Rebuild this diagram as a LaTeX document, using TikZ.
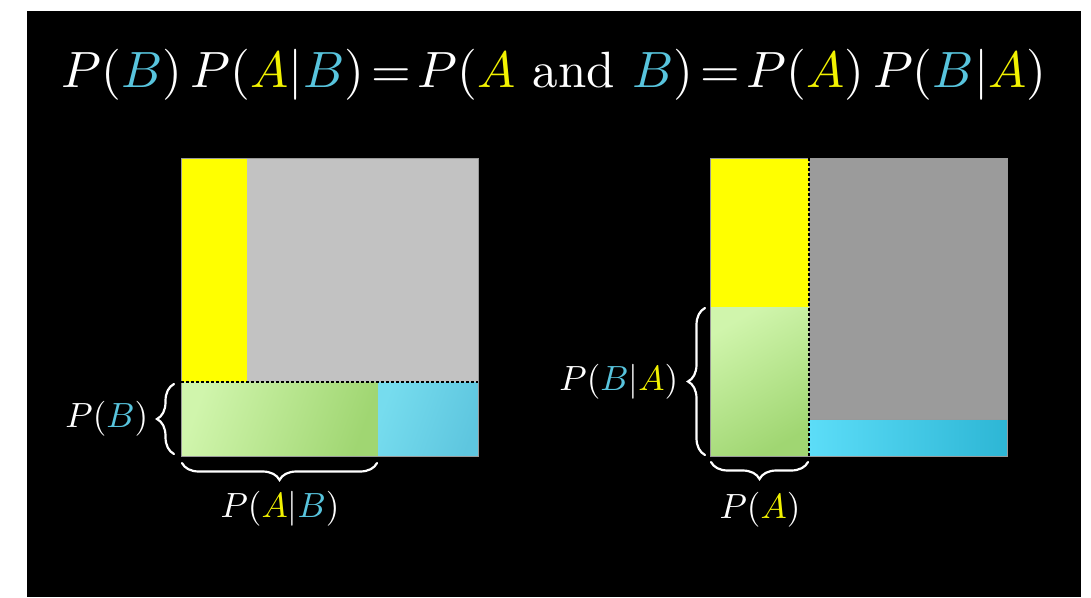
\documentclass[tikz,border=0pt]{standalone}
\usetikzlibrary{decorations.pathreplacing}
\definecolor{tblue}{HTML}{58C4DD}
\definecolor{tyellow}{HTML}{F2F200}
\definecolor{sqyellow}{HTML}{FFFF00}
\definecolor{lgray}{HTML}{C2C2C2}
\definecolor{dgray}{HTML}{9B9B9B}
\definecolor{greenA}{HTML}{D0F5AC}
\definecolor{greenB}{HTML}{A0D672}
\definecolor{blueA}{HTML}{76DCEE}
\definecolor{blueB}{HTML}{5EC6DF}
\definecolor{blueC}{HTML}{5CDDF8}
\definecolor{blueD}{HTML}{2DB6D5}
\newcommand{\Bc}{\textcolor{tblue}{B}}
\newcommand{\Ac}{\textcolor{tyellow}{A}}
\newcommand{\teq}{\mathrel{\mkern-2.5mu=\mkern-2.5mu}}
\begin{document}
\begin{tikzpicture}[x=1pt,y=-1pt,
  brc/.style={decorate, decoration={brace, amplitude=17pt}, draw=white, line width=2.2pt, line cap=round},
  dotline/.style={draw=black, line width=1.2pt, dash pattern=on 2.5pt off 2.5pt},
  frame/.style={draw=gray!80, line width=0.8pt},
  lbl/.style={text=white, scale=3.5, inner sep=0pt},
  ttl/.style={text=white, scale=5.1, inner sep=0pt}]
\useasboundingbox (0,0) rectangle (1091,597);
\fill[white] (0,0) rectangle (1091,597);
\fill[black] (27,11) rectangle (1081,597);

% title
\node[ttl, anchor=base] (title) at (554,87)
  {$P(\Bc)\,P(\Ac|\Bc)\teq P(\Ac\mbox{ and }\Bc)\teq P(\Ac)\,P(\Bc|\Ac)$};

% ---- left square ----
\coordinate (L1) at (181,158);
\coordinate (L2) at (478,456);
\fill[sqyellow] (181,158) rectangle (247,382);
\fill[lgray] (247,158) rectangle (478,382);
\shade[top color=greenA, bottom color=greenB, shading angle=70] (181,382) rectangle (378,456);
\shade[top color=blueA, bottom color=blueB, shading angle=70] (378,382) rectangle (478,456);
\draw[frame] (L1) rectangle (L2);
\draw[dotline] (181,382) -- (478,382);

\coordinate (lbA) at (174,454);
\coordinate (lbB) at (174,384);
\draw[brc] (lbA) -- (lbB);
\coordinate (bbA) at (377,463);
\coordinate (bbB) at (182,463);
\draw[brc] (bbA) -- (bbB);
\node[lbl, anchor=base east] (pb) at (149,427) {$P(\Bc)$};
\node[lbl, anchor=base] (pab) at (280,517) {$P(\Ac|\Bc)$};

% ---- right square ----
\coordinate (R1) at (710,158);
\coordinate (R2) at (1007,456);
\fill[sqyellow] (710,158) rectangle (809,307);
\shade[top color=greenA, bottom color=greenB, shading angle=30] (710,307) rectangle (809,456);
\fill[dgray] (809,158) rectangle (1007,419);
\shade[left color=blueC, right color=blueD] (809,419) rectangle (1007,456);
\draw[frame] (R1) rectangle (R2);
\draw[frame] (809,419) -- (1007,419);
\draw[dotline] (809,158) -- (809,456);

\coordinate (rbA) at (705,455);
\coordinate (rbB) at (705,308);
\draw[brc] (rbA) -- (rbB);
\coordinate (rcA) at (808,462);
\coordinate (rcB) at (711,462);
\draw[brc] (rcA) -- (rcB);
\node[lbl, anchor=base east] (pba) at (679,390) {$P(\Bc|\Ac)$};
\node[lbl, anchor=base] (pa) at (760,518) {$P(\Ac)$};
\end{tikzpicture}
\end{document}
